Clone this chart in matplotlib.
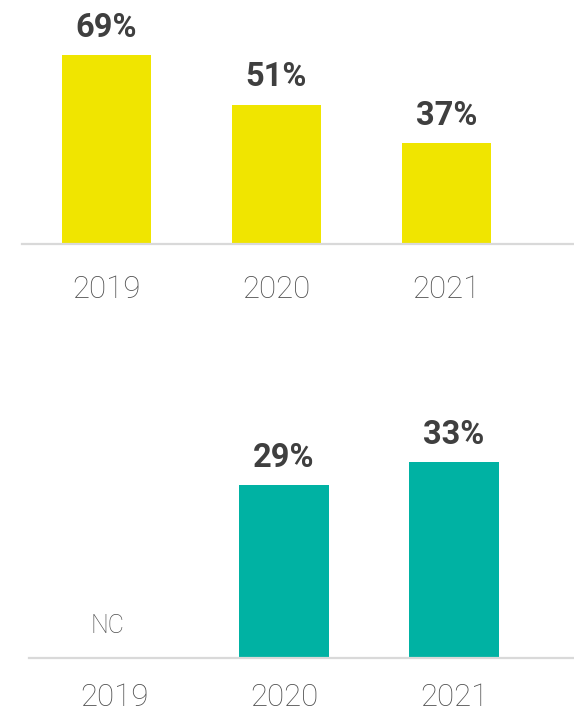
import matplotlib
matplotlib.use("Agg")
import matplotlib.pyplot as plt

years = ["2019", "2020", "2021"]
top_values = [69, 51, 37]
bottom_values = [None, 29, 33]   # 2019: not collected
missing_label = "NC"

yellow = "#F0E500"
teal = "#00B2A3"
label_col = "#3f3f3f"
tick_col = "#4f4f4f"
axis_col = "#d9d9d9"

W, H = 574, 711
fig = plt.figure(figsize=(W / 100, H / 100), dpi=100)


def px_axes(x0, y_top, x1, y_base):
    # axes from pixel coords (origin top-left)
    return fig.add_axes([x0 / W, 1 - y_base / H, (x1 - x0) / W, (y_base - y_top) / H])


def style(ax, xlim, ymax, pad):
    ax.set_xlim(*xlim)
    ax.set_ylim(0, ymax)
    for s in ["top", "right", "left"]:
        ax.spines[s].set_visible(False)
    ax.spines["bottom"].set_color(axis_col)
    ax.spines["bottom"].set_linewidth(1.6)
    ax.set_yticks([])
    ax.set_xticks(range(len(years)))
    ax.set_xticklabels(years, fontsize=22.5, fontfamily="Roboto", fontweight="light", color=tick_col)
    ax.tick_params(axis="x", length=0, pad=pad)
    ax.patch.set_alpha(0)


# top chart
ax1 = px_axes(22, 0, 574, 244)
xs = list(range(len(years)))
ax1.bar(xs, top_values, width=0.524, color=yellow)
style(ax1, (-0.497, 2.75), 244 / 2.735, 22)
for x, v in zip(xs, top_values):
    ax1.annotate(f"{v}%", (x, v), xytext=(0, 13), textcoords="offset points",
                 ha="center", va="baseline", fontsize=23.5, fontweight="bold",
                 fontfamily="Roboto", color=label_col)

# bottom chart
ax2 = px_axes(29, 400, 574, 658)
bx = [x for x, v in zip(xs, bottom_values) if v is not None]
bv = [v for v in bottom_values if v is not None]
ax2.bar(bx, bv, width=0.53, color=teal)
style(ax2, (-0.5, 2.706), 258 / 5.95, 18)
for x, v in zip(xs, bottom_values):
    if v is None:
        ax2.annotate(missing_label, (x, 0), xytext=(-5, 18), textcoords="offset points",
                     ha="center", va="baseline", fontsize=18, fontweight="light",
                     fontfamily="Roboto", color=tick_col)
    else:
        ax2.annotate(f"{v}%", (x, v), xytext=(0, 13), textcoords="offset points",
                     ha="center", va="baseline", fontsize=23.5, fontweight="bold",
                     fontfamily="Roboto", color=label_col)

fig.savefig("out.png", dpi=100)
